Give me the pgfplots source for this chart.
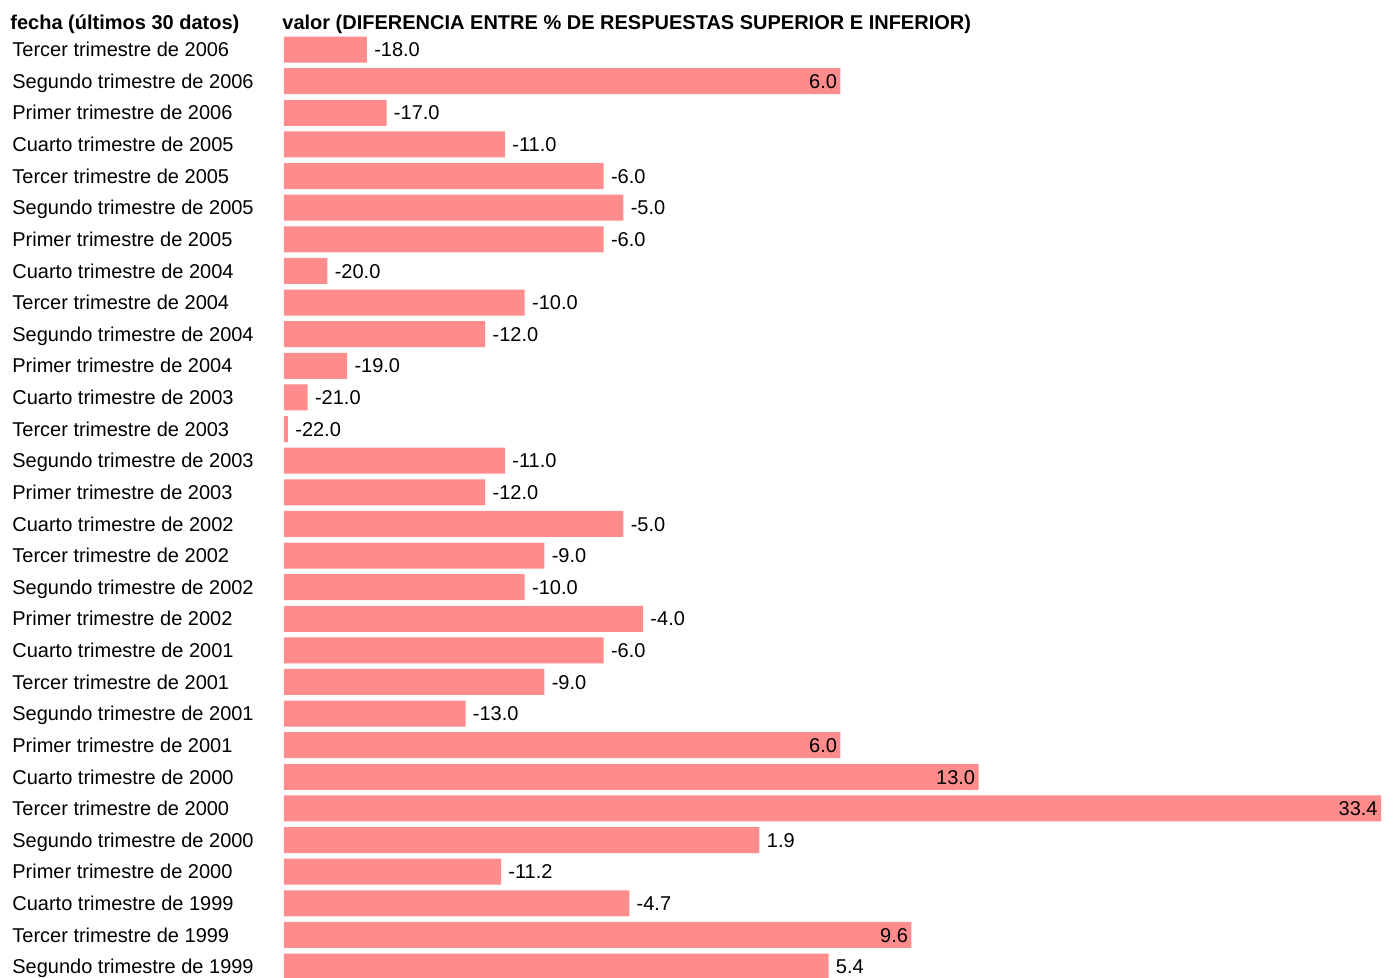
\documentclass[border=0pt]{standalone}
\usepackage{fontspec}
\setmainfont{Liberation Sans}
\usepackage{pgfplots}
\usepackage{pgfplotstable}
\pgfplotsset{compat=1.18}
\definecolor{barra}{HTML}{FF8C8C}

% y = position from the bottom, v = value
\pgfplotstableread{
y v
0 5.4
2 -4.7
3 -11.2
4 1.9
8 -13.0
9 -9.0
10 -6.0
11 -4.0
12 -10.0
13 -9.0
14 -5.0
15 -12.0
16 -11.0
17 -22.0
18 -21.0
19 -19.0
20 -12.0
21 -10.0
22 -20.0
23 -6.0
24 -5.0
25 -6.0
26 -11.0
27 -17.0
29 -18.0
}\fuera
\pgfplotstableread{
y v
1 9.6
5 33.4
6 13.0
7 6.0
28 6.0
}\dentro

\begin{document}
\begin{tikzpicture}
\useasboundingbox (-142pt,0) rectangle (554.5pt,489pt);
\begin{axis}[
    name=ax,
    at={(0,0)}, anchor=south west,
    scale only axis,
    width=548.5pt, height=471.5pt,
    xbar, bar width=13pt,
    xmin=0, xmax=55.6,
    ymin=-0.36, ymax=29.46,
    axis line style={draw=none},
    major tick length=0pt,
    xtick=\empty,
    ytick={0,...,29},
    yticklabels={
        Segundo trimestre de 1999, Tercer trimestre de 1999, Cuarto trimestre de 1999,
        Primer trimestre de 2000, Segundo trimestre de 2000, Tercer trimestre de 2000, Cuarto trimestre de 2000,
        Primer trimestre de 2001, Segundo trimestre de 2001, Tercer trimestre de 2001, Cuarto trimestre de 2001,
        Primer trimestre de 2002, Segundo trimestre de 2002, Tercer trimestre de 2002, Cuarto trimestre de 2002,
        Primer trimestre de 2003, Segundo trimestre de 2003, Tercer trimestre de 2003, Cuarto trimestre de 2003,
        Primer trimestre de 2004, Segundo trimestre de 2004, Tercer trimestre de 2004, Cuarto trimestre de 2004,
        Primer trimestre de 2005, Segundo trimestre de 2005, Tercer trimestre de 2005, Cuarto trimestre de 2005,
        Primer trimestre de 2006, Segundo trimestre de 2006, Tercer trimestre de 2006},
    yticklabel style={anchor=west, inner sep=0pt, xshift=-136pt,
        font=\fontsize{10pt}{12pt}\selectfont, text height=7.16pt, text depth=0pt},
    /pgf/number format/assume math mode=true,
    nodes near coords={\pgfmathprintnumber[fixed,fixed zerofill,precision=1]{\pgfplotspointmeta}},
    clip=false,
]
    \addplot [draw=none, fill=barra, bar shift=0pt,
        point meta=explicit,
        every node near coord/.append style={anchor=west, inner sep=0pt, xshift=3.5pt,
            font=\fontsize{10pt}{12pt}\selectfont, text height=7.16pt, text depth=0pt}]
        table [x expr=\thisrow{v}+22.2, y=y, meta=v] {\fuera};
    \addplot [draw=none, fill=barra, bar shift=0pt,
        point meta=explicit,
        every node near coord/.append style={anchor=east, inner sep=0pt, xshift=-1.5pt,
            font=\fontsize{10pt}{12pt}\selectfont, text height=7.16pt, text depth=0pt}]
        table [x expr=\thisrow{v}+22.2, y=y, meta=v] {\dentro};
\end{axis}
\node [anchor=base west, inner sep=0pt, font=\fontsize{10pt}{12pt}\selectfont\bfseries]
    at ([xshift=-137pt, yshift=2.5pt]ax.north west) {fecha (últimos 30 datos)};
\node [anchor=base west, inner sep=0pt, font=\fontsize{10pt}{12pt}\selectfont\bfseries]
    at ([xshift=-1pt, yshift=2.5pt]ax.north west) {valor (DIFERENCIA ENTRE \% DE RESPUESTAS SUPERIOR E INFERIOR)};
\end{tikzpicture}
\end{document}
